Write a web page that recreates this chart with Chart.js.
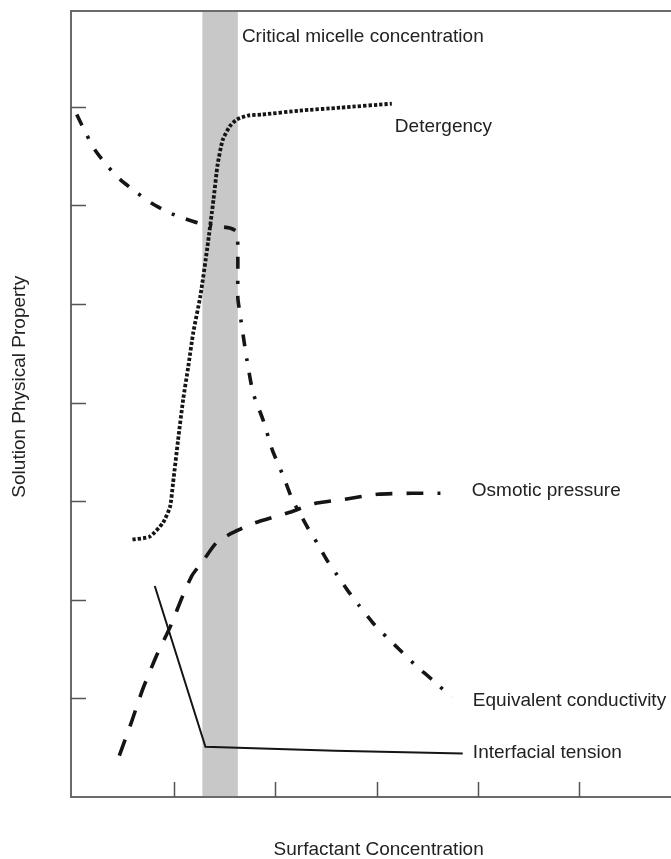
<!DOCTYPE html>
<html>
<head>
<meta charset="utf-8">
<script src="https://cdn.jsdelivr.net/npm/chart.js@4/dist/chart.umd.min.js"></script>
<style>
  body { margin: 0; background: #fff; }
  #wrap { width: 671px; height: 859px; }
</style>
</head>
<body>
<div id="wrap"><canvas id="myChart"></canvas></div>
<script>
// values (arbitrary units)
const detergencyX = [0.59, 0.76, 0.89, 0.96, 0.99, 1.04, 1.09, 1.14, 1.19, 1.26, 1.33, 1.39, 1.43, 1.48, 1.55, 1.62, 1.73, 1.87, 2.24, 2.64, 3.15];
const detergencyY = [2.61, 2.64, 2.78, 2.94, 3.18, 3.62, 4.03, 4.36, 4.71, 5.08, 5.58, 6.06, 6.41, 6.66, 6.80, 6.87, 6.91, 6.92, 6.96, 6.99, 7.03];

const conductivityX = [0.04, 0.14, 0.22, 0.34, 0.47, 0.63, 0.78, 0.94, 1.09, 1.24, 1.39, 1.55, 1.62, 1.63, 1.63, 1.65, 1.69, 1.72, 1.78, 1.88, 1.97, 2.08, 2.17, 2.24, 2.32, 2.41, 2.51, 2.61, 2.71, 2.82, 2.96, 3.10, 3.25, 3.40, 3.56, 3.74];
const conductivityY = [6.92, 6.71, 6.56, 6.40, 6.26, 6.13, 6.02, 5.93, 5.87, 5.82, 5.79, 5.77, 5.73, 5.45, 5.06, 4.91, 4.63, 4.43, 4.10, 3.82, 3.52, 3.25, 3.01, 2.88, 2.73, 2.58, 2.40, 2.25, 2.10, 1.95, 1.77, 1.62, 1.47, 1.32, 1.18, 1.01];

const osmoticX = [0.46, 0.58, 0.69, 0.83, 0.96, 1.09, 1.18, 1.29, 1.42, 1.58, 1.80, 2.12, 2.41, 2.69, 3.01, 3.35, 3.63];
const osmoticY = [0.42, 0.76, 1.09, 1.44, 1.72, 2.05, 2.25, 2.40, 2.58, 2.68, 2.78, 2.88, 2.98, 3.02, 3.07, 3.08, 3.08];

const tensionX = [0.81, 1.31, 2.59, 3.85];
const tensionY = [2.14, 0.51, 0.47, 0.44];

// critical micelle concentration band
const cmcRange = [1.28, 1.63];

const xTicks = [1, 2, 3, 4, 5];
const yTicks = [1, 2, 3, 4, 5, 6, 7];

// text labels: [text, x, y]
const curveLabels = [
  ['Critical micelle concentration', 1.67, 7.71],
  ['Detergency', 3.18, 6.80],
  ['Osmotic pressure', 3.94, 3.11],
  ['Equivalent conductivity', 3.95, 0.98],
  ['Interfacial tension', 3.95, 0.45]
];
const xTitle = 'Surfactant Concentration';
const yTitle = 'Solution Physical Property';

function pts(xs, ys) {
  return xs.map((x, i) => ({ x: x, y: ys[i] }));
}

const ink = '#151515';
const font = '19px "Liberation Sans", Arial, sans-serif';

const decorations = {
  id: 'decorations',
  beforeDatasetsDraw(chart) {
    const { ctx, chartArea: a, scales: { x } } = chart;
    ctx.save();
    ctx.fillStyle = '#c8c8c8';
    const x0 = x.getPixelForValue(cmcRange[0]);
    const x1 = x.getPixelForValue(cmcRange[1]);
    ctx.fillRect(x0, a.top, x1 - x0, a.bottom - a.top);
    ctx.restore();
  },
  afterDatasetsDraw(chart) {
    const { ctx, chartArea: a, scales: { x, y } } = chart;
    ctx.save();
    // frame: left, bottom, top
    ctx.strokeStyle = '#6a6a6a';
    ctx.lineWidth = 2;
    ctx.beginPath();
    ctx.moveTo(a.right, a.top);
    ctx.lineTo(a.left, a.top);
    ctx.lineTo(a.left, a.bottom);
    ctx.lineTo(a.right, a.bottom);
    ctx.stroke();
    // inward ticks
    ctx.lineWidth = 1.5;
    ctx.strokeStyle = '#555';
    ctx.beginPath();
    yTicks.forEach(v => {
      const py = Math.round(y.getPixelForValue(v)) + 0.5;
      ctx.moveTo(a.left, py);
      ctx.lineTo(a.left + 15, py);
    });
    xTicks.forEach(v => {
      const px = Math.round(x.getPixelForValue(v)) + 0.5;
      ctx.moveTo(px, a.bottom);
      ctx.lineTo(px, a.bottom - 15);
    });
    ctx.stroke();
    // labels
    ctx.fillStyle = '#222';
    ctx.font = font;
    ctx.textAlign = 'left';
    ctx.textBaseline = 'middle';
    curveLabels.forEach(([t, lx, ly]) => {
      ctx.fillText(t, x.getPixelForValue(lx), y.getPixelForValue(ly));
    });
    // axis titles
    ctx.textAlign = 'center';
    ctx.fillText(xTitle, x.getPixelForValue(3.02), a.bottom + 53);
    ctx.translate(20, y.getPixelForValue(4.16));
    ctx.rotate(-Math.PI / 2);
    ctx.fillText(yTitle, 0, 0);
    ctx.restore();
  }
};

const ctx = document.getElementById('myChart').getContext('2d');
const myChart = new Chart(ctx, {
  type: 'scatter',
  data: {
    datasets: [
      {
        label: 'Detergency',
        data: pts(detergencyX, detergencyY),
        borderColor: ink,
        borderWidth: 3.8,
        borderDash: [3.3, 2],
        tension: 0.2
      },
      {
        label: 'Equivalent conductivity',
        data: pts(conductivityX, conductivityY),
        borderColor: ink,
        borderWidth: 3.6,
        borderDash: [12, 12, 3, 12],
        tension: 0.2
      },
      {
        label: 'Osmotic pressure',
        data: pts(osmoticX, osmoticY),
        borderColor: ink,
        borderWidth: 3.6,
        borderDash: [17, 14],
        tension: 0.2
      },
      {
        label: 'Interfacial tension',
        data: pts(tensionX, tensionY),
        borderColor: ink,
        borderWidth: 2,
        tension: 0
      }
    ]
  },
  options: {
    responsive: true,
    maintainAspectRatio: false,
    animation: false,
    showLine: true,
    elements: { point: { radius: 0, hoverRadius: 0 } },
    layout: { padding: { left: 71, top: 11, right: 0, bottom: 62 } },
    scales: {
      x: { type: 'linear', min: -0.017, max: 5.906, display: false },
      y: { type: 'linear', min: 0, max: 7.97, display: false }
    },
    plugins: {
      legend: { display: false },
      tooltip: { enabled: false }
    }
  },
  plugins: [decorations]
});
</script>
</body>
</html>
